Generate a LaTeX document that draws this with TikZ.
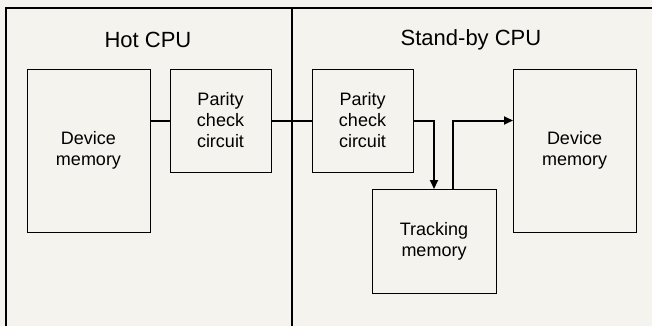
\documentclass[tikz,border=0pt]{standalone}
\usepackage{fontspec}
\setmainfont{Liberation Sans}
\usetikzlibrary{positioning,backgrounds,arrows.meta}
\definecolor{paper}{HTML}{F5F3ED}
\tikzset{
    unit/.style={draw,line width=0.8pt,inner sep=0pt,outer sep=0pt,align=center,
        font=\fontsize{18}{21}\selectfont},
    link/.style={line width=2pt},
    cputitle/.style={font=\fontsize{22}{26}\selectfont}
}
\begin{document}
\begin{tikzpicture}[
    x=1pt,y=-1pt,line width=1.2pt,
    show background rectangle,inner frame sep=0pt,
    background rectangle/.style={fill=paper,draw=none}
]
\useasboundingbox (0,0) rectangle (652,326);

% frame and divider
\coordinate (corner) at (6,8);
\draw (6,326) -- (corner) -- (652,8);
\draw (292,8) -- (292,326);

\node[cputitle] (hottitle) at (148,40) {Hot CPU};
\node[cputitle] (sbytitle) at (471,40) {Stand-by CPU};

\node[unit,minimum width=123pt,minimum height=163pt] (hotmem) at (88.5,150.5) {Device\\memory};
\node[unit,minimum width=101pt,minimum height=103pt] (hotpar) at (220.5,120.5) {Parity\\check\\circuit};
\node[unit,minimum width=101pt,minimum height=103pt] (sbypar) at (362.5,120.5) {Parity\\check\\circuit};
\node[unit,minimum width=124pt,minimum height=104pt] (track) at (434,241) {Tracking\\memory};
\node[unit,minimum width=123pt,minimum height=163pt] (sbymem) at (574.5,150.5) {Device\\memory};

\draw[link] (hotmem.east |- hotpar.west) to (hotpar.west);
\draw[link] (hotpar.east) to (sbypar.west);
\draw[link,-{Triangle[length=9pt,width=8pt]}] (sbypar.east) -| (track.north);
\coordinate (trackout) at ([xshift=19pt]track.north);
\draw[link,-{Triangle[length=9pt,width=8pt]}] (trackout) |- (sbymem.west |- sbypar.east);

\end{tikzpicture}
\end{document}
